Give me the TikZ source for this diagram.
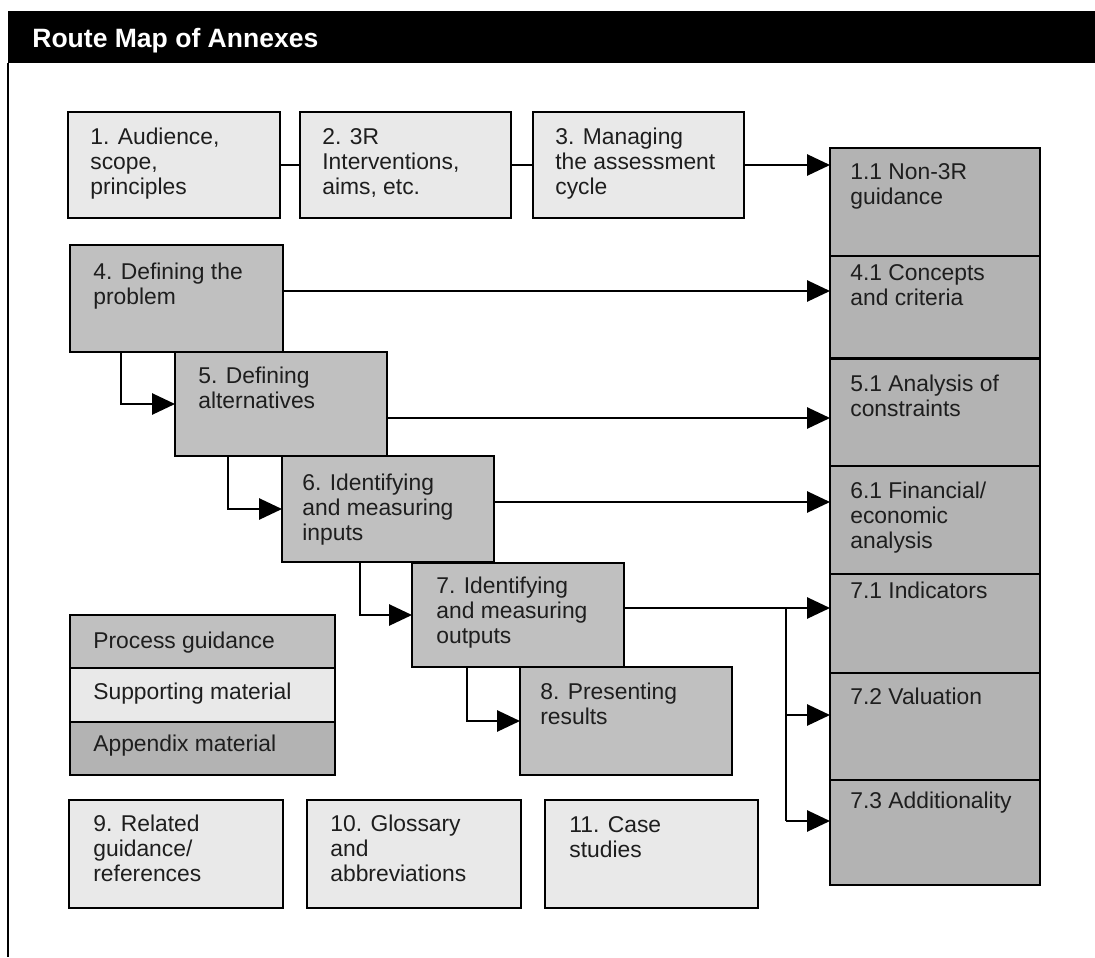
\documentclass[tikz,border=0pt]{standalone}
\usepackage{fontspec}
\setmainfont{Liberation Sans}
\usetikzlibrary{arrows.meta,fit}
\definecolor{procfill}{HTML}{C0C0C0}
\definecolor{appfill}{HTML}{B3B3B3}
\definecolor{supfill}{HTML}{E9E9E9}
\definecolor{txtcol}{HTML}{1E1E1E}
\begin{document}
\begin{tikzpicture}[x=0.02cm,y=-0.02cm,
  box/.style={draw=black,line width=1.4pt,inner sep=0pt,outer sep=0pt},
  proc/.style={box,fill=procfill},
  app/.style={box,fill=appfill},
  sup/.style={box,fill=supfill},
  txt/.style={anchor=north west,inner sep=0pt,align=left,text=txtcol,font=\fontsize{13}{14.2}\selectfont},
  conn/.style={line width=1.15pt},
  arr/.style={conn,-{Triangle[length=13pt,width=12pt]}}]
\useasboundingbox (0,0) rectangle (1095,957);
% title bar and frame
\fill[black] (8,11) rectangle (1095,63);
\draw[line width=0.7pt] (8,63) -- (8,957);
\node[anchor=base west,inner sep=0pt,text=white,font=\bfseries\fontsize{15.1}{18}\selectfont] (title) at (32,47) {Route Map of Annexes};

% top row
\node[sup,fit={(68,112)(280,218)}] (b1) {};
\node[sup,fit={(300,112)(511,218)}] (b2) {};
\node[sup,fit={(533,112)(744,218)}] (b3) {};
\node[txt] (t1) at (90,128) {1. Audience,\\scope,\\principles};
\node[txt] (t2) at (322,128) {2. 3R\\Interventions,\\aims, etc.};
\node[txt] (t3) at (555,128) {3. Managing\\the assessment\\cycle};

% right column
\node[app,fit={(830,148)(1040,256)}] (r11) {};
\node[app,fit={(830,256)(1040,358)}] (r41) {};
\node[app,fit={(830,359)(1040,466)}] (r51) {};
\node[app,fit={(830,466)(1040,574)}] (r61) {};
\node[app,fit={(830,574)(1040,673)}] (r71) {};
\node[app,fit={(830,673)(1040,780)}] (r72) {};
\node[app,fit={(830,780)(1040,885)}] (r73) {};
\node[txt] (u11) at (850,163) {1.1 Non-3R\\guidance};
\node[txt] (u41) at (850,264) {4.1 Concepts\\and criteria};
\node[txt] (u51) at (850,375) {5.1 Analysis of\\constraints};
\node[txt] (u61) at (850,482) {6.1 Financial/\\economic\\analysis};
\node[txt] (u71) at (850,582) {7.1 Indicators};
\node[txt] (u72) at (850,688) {7.2 Valuation};
\node[txt] (u73) at (850,792) {7.3 Additionality};

% process boxes
\node[proc,fit={(70,245)(283,352)}] (b4) {};
\node[proc,fit={(175,352)(387,456)}] (b5) {};
\node[proc,fit={(282,456)(494,562)}] (b6) {};
\node[proc,fit={(412,563)(624,667)}] (b7) {};
\node[proc,fit={(520,667)(732,775)}] (b8) {};
\node[txt] (t4) at (93,263) {4. Defining the\\problem};
\node[txt] (t5) at (198,367) {5. Defining\\alternatives};
\node[txt] (t6) at (302,474) {6. Identifying\\and measuring\\inputs};
\node[txt] (t7) at (436,577) {7. Identifying\\and measuring\\outputs};
\node[txt] (t8) at (540,683) {8. Presenting\\results};

% legend
\node[proc,fit={(70,615)(335,668)}] (lg1) {};
\node[sup,fit={(70,668)(335,722)}] (lg2) {};
\node[app,fit={(70,722)(335,775)}] (lg3) {};
\node[txt] (l1) at (93,632) {Process guidance};
\node[txt] (l2) at (93,683) {Supporting material};
\node[txt] (l3) at (93,735) {Appendix material};

% bottom row
\node[sup,fit={(69,800)(283,908)}] (b9) {};
\node[sup,fit={(307,800)(521,908)}] (b10) {};
\node[sup,fit={(545,800)(758,908)}] (b11) {};
\node[txt] (t9) at (93,815) {9. Related\\guidance/\\references};
\node[txt] (t10) at (330,815) {10. Glossary\\and\\abbreviations};
\node[txt] (t11) at (569,816) {11. Case\\studies};

% connectors
\draw[conn] (b1.east) -- (b2.west);
\draw[conn] (b2.east) -- (b3.west);
\draw[arr] (b3.east) -- (b3.east -| r11.west);
\draw[arr] (b4.east |- 0,291) -- (r41.west |- 0,291);
\draw[arr] (b5.east |- 0,418) -- (r51.west |- 0,418);
\draw[arr] (b6.east |- 0,502) -- (r61.west |- 0,502);
\draw[arr] (b7.east |- 0,608) -- (r71.west |- 0,608);
\coordinate (j) at (786,608);
\draw[conn] (j) -- (786,821);
\draw[arr] (j |- 0,715) -- (r72.west |- 0,715);
\draw[arr] (j |- 0,821) -- (r73.west |- 0,821);
\draw[arr] (b4.south -| 121,0) |- (b5.west);
\draw[arr] (b5.south -| 228,0) |- (b6.west);
\draw[arr] (b6.south -| 360,0) |- (b7.west);
\draw[arr] (b7.south -| 467,0) |- (b8.west);
\end{tikzpicture}
\end{document}
